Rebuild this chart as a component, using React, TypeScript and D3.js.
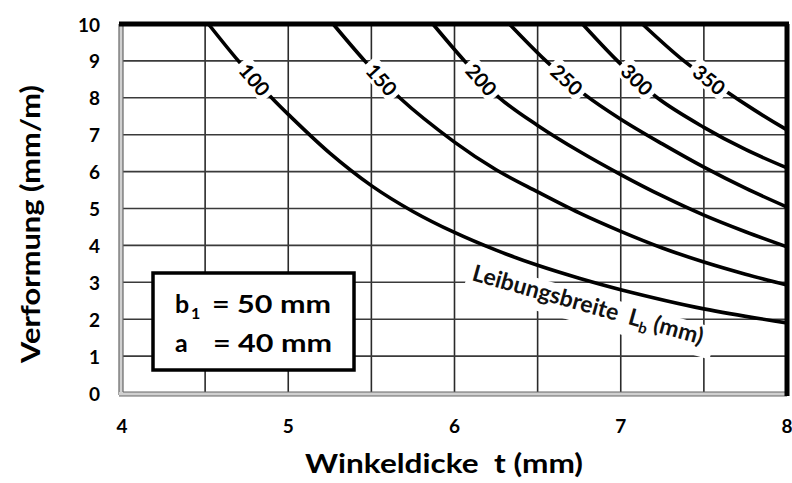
import React from 'react';
import * as d3 from 'd3';

type Pt = [number, number];

// Leibungsbreite L_b (mm) of each curve
const widths = [100, 150, 200, 250, 300, 350];

// curves: [Winkeldicke t (mm), Verformung (mm/m)]
const curve100: Pt[] = [[4.52, 10], [4.70, 9], [4.90, 8], [5.0, 7.55], [5.25, 6.5], [5.5, 5.62], [5.75, 4.92], [6.0, 4.35], [6.25, 3.87], [6.5, 3.46], [6.75, 3.11], [7.0, 2.8], [7.5, 2.28], [8.0, 1.9]];
const curve150: Pt[] = [[5.27, 10], [5.46, 9], [5.67, 8], [6.0, 6.8], [6.25, 6.05], [6.5, 5.45], [6.75, 4.88], [7.0, 4.38], [7.25, 3.93], [7.5, 3.55], [7.75, 3.22], [8.0, 2.93]];
const curve200: Pt[] = [[5.87, 10], [6.06, 9], [6.27, 8], [6.5, 7.25], [6.75, 6.55], [7.0, 5.92], [7.25, 5.34], [7.5, 4.82], [7.75, 4.37], [8.0, 3.96]];
const curve250: Pt[] = [[6.33, 10], [6.55, 9], [6.78, 8.1], [7.0, 7.42], [7.25, 6.75], [7.5, 6.12], [7.75, 5.55], [8.0, 5.04]];
const curve300: Pt[] = [[6.77, 10], [6.98, 9], [7.22, 8], [7.5, 7.2], [7.75, 6.6], [8.0, 6.1]];
const curve350: Pt[] = [[7.13, 10], [7.38, 9], [7.62, 8.22], [7.8, 7.68], [8.0, 7.13]];

const curves = [curve100, curve150, curve200, curve250, curve300, curve350];

const xTicks = [4, 5, 6, 7, 8];
const xGrid = [4.5, 5, 5.5, 6, 6.5, 7, 7.5];
const yTicks = [0, 1, 2, 3, 4, 5, 6, 7, 8, 9, 10];
const yGrid = [1, 2, 3, 4, 5, 6, 7, 8, 9];

const labelValue = 8.5;

const FONT = "Lato, 'DejaVu Sans', sans-serif";

function tAt(c: Pt[], v: number): number {
  for (let i = 0; i < c.length - 1; i++) {
    const a = c[i], b = c[i + 1];
    if ((a[1] - v) * (b[1] - v) <= 0) {
      const f = (a[1] - v) / (a[1] - b[1]);
      return a[0] + f * (b[0] - a[0]);
    }
  }
  return c[c.length - 1][0];
}

export default function App() {
  const W = 792, H = 483;
  const x = d3.scaleLinear().domain([4, 8]).range([122, 787]);
  const y = d3.scaleLinear().domain([0, 10]).range([393, 24]);
  const line = d3.line<Pt>().x(d => x(d[0])).y(d => y(d[1])).curve(d3.curveCatmullRom.alpha(0.5));

  const labels = curves.map((c, i) => {
    const t = tAt(c, labelValue);
    const t10 = c[0][0];
    const t8 = tAt(c, 8);
    const ang = Math.atan2(y(8) - y(10), x(t8) - x(t10)) * 180 / Math.PI;
    return { cx: x(t), cy: y(labelValue), ang, text: String(widths[i]) };
  });

  const x0 = x(4), x1 = x(8), y0 = y(0), y1 = y(10);

  return (
    <svg width={W} height={H} style={{ position: 'absolute', left: 0, top: 0, background: '#fff' }} fontFamily={FONT}>
      <rect x={0} y={0} width={W} height={H} fill="#fff" />
      {/* grid */}
      {xGrid.map(v => (
        <line key={'gx' + v} x1={x(v)} x2={x(v)} y1={y1} y2={y0} stroke="#2a2a2a" strokeWidth={1.6} />
      ))}
      {yGrid.map(v => (
        <line key={'gy' + v} x1={x0} x2={x1} y1={y(v)} y2={y(v)} stroke="#3a3a3a" strokeWidth={1.6} />
      ))}
      {/* left & bottom double axis lines */}
      <rect x={x0 - 3} y={y1} width={4} height={y0 - y1 + 2} fill="#d0d0d0" />
      <line x1={x0 - 3} x2={x0 - 3} y1={y1} y2={y0 + 2} stroke="#666" strokeWidth={1.2} />
      <line x1={x0 + 1} x2={x0 + 1} y1={y1} y2={y0 - 1} stroke="#666" strokeWidth={1.2} />
      <rect x={x0 - 3} y={y0 - 1} width={x1 - x0 + 3} height={4} fill="#d0d0d0" />
      <line x1={x0 - 3} x2={x1} y1={y0 + 3} y2={y0 + 3} stroke="#666" strokeWidth={1.2} />
      <line x1={x0 + 1} x2={x1} y1={y0 - 1} y2={y0 - 1} stroke="#666" strokeWidth={1.2} />

      {/* Leibungsbreite label */}
      <g transform={`translate(471,280) rotate(15.7)`}>
        <rect x={-5} y={-20} width={256} height={32} fill="#fff" />
        <text x={0} y={0} fontSize={23} fontWeight={700} fill="#111">
          Leibungsbreite{'\u00A0\u00A0'}L
          <tspan fontSize={15} dy={5}>b</tspan>
          <tspan dy={-5}>{'\u00A0'}(mm)</tspan>
        </text>
      </g>

      {/* curves */}
      {curves.map((c, i) => (
        <path key={'c' + i} d={line(c) || ''} fill="none" stroke="#000" strokeWidth={3.6} />
      ))}

      {/* curve labels */}
      {labels.map((l, i) => (
        <g key={'l' + i} transform={`translate(${l.cx},${l.cy}) rotate(${l.ang})`}>
          <rect x={-22} y={-11} width={44} height={22} fill="#fff" />
          <text x={0} y={0} textAnchor="middle" dominantBaseline="central" fontSize={20} fontWeight={700} fill="#000">{l.text}</text>
        </g>
      ))}

      {/* top & right borders */}
      <line x1={x0 - 3} x2={x1 + 2} y1={y1} y2={y1} stroke="#000" strokeWidth={5} />
      <line x1={x1} x2={x1} y1={y1} y2={y0 + 3} stroke="#000" strokeWidth={5} />

      {/* box */}
      <rect x={153} y={273} width={201} height={97} fill="#fff" stroke="#000" strokeWidth={3.5} />
      <text x={175} y={313} fontSize={25} fontWeight={700}>b</text>
      <text x={191} y={319} fontSize={16} fontWeight={700}>1</text>
      <text x={212} y={313} fontSize={25} fontWeight={700} textLength={119} lengthAdjust="spacingAndGlyphs">= 50 mm</text>
      <text x={175} y={352} fontSize={25} fontWeight={700}>a</text>
      <text x={213} y={352} fontSize={25} fontWeight={700} textLength={119} lengthAdjust="spacingAndGlyphs">= 40 mm</text>

      {/* tick labels */}
      {yTicks.map(v => (
        <text key={'yt' + v} x={100} y={y(v)} textAnchor="end" dominantBaseline="central" fontSize={19} fontWeight={700}>{v}</text>
      ))}
      {xTicks.map(v => (
        <text key={'xt' + v} x={x(v)} y={425} textAnchor="middle" dominantBaseline="central" fontSize={19} fontWeight={700}>{v}</text>
      ))}

      {/* axis titles */}
      <text x={305} y={473} fontSize={27} fontWeight={700} textLength={278} lengthAdjust="spacingAndGlyphs">Winkeldicke{'\u00A0\u00A0'}t (mm)</text>
      <text transform={`translate(40,363) rotate(-90)`} x={0} y={0} fontSize={27} fontWeight={700} textLength={278} lengthAdjust="spacingAndGlyphs">Verformung (mm/m)</text>
    </svg>
  );
}
